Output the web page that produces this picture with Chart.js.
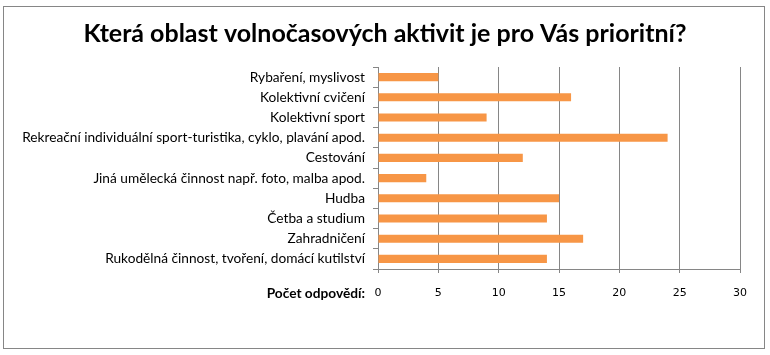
<!DOCTYPE html>
<html>
<head>
<meta charset="utf-8">
<script src="https://cdn.jsdelivr.net/npm/chart.js@4/dist/chart.umd.min.js"></script>
<style>
html,body{margin:0;padding:0;background:#fff;}
#wrap{width:770px;height:355px;position:relative;}
</style>
</head>
<body>
<div id="wrap"><canvas id="c" width="770" height="355"></canvas></div>
<script>
const titleText = "Která oblast volnočasových aktivit je pro Vás prioritní?";
const axisTitle = "Počet odpovědí:";
const categories = [
  "Rybaření, myslivost",
  "Kolektivní cvičení",
  "Kolektivní sport",
  "Rekreační individuální sport-turistika, cyklo, plavání apod.",
  "Cestování",
  "Jiná umělecká činnost např. foto, malba apod.",
  "Hudba",
  "Četba a studium",
  "Zahradničení",
  "Rukodělná činnost, tvoření, domácí kutilství"
];
const values = [5, 16, 9, 24, 12, 4, 15, 14, 17, 14];
const xTicks = [0, 5, 10, 15, 20, 25, 30];

const frame = {
  id: 'frame',
  beforeDraw(chart) {
    const ctx = chart.ctx;
    ctx.save();
    ctx.fillStyle = '#fff';
    ctx.fillRect(0, 0, chart.width, chart.height);
    ctx.strokeStyle = '#868686';
    ctx.lineWidth = 1;
    ctx.strokeRect(3.5, 6.5, 761, 342);
    ctx.restore();
  },
  afterDraw(chart) {
    const ctx = chart.ctx;
    ctx.save();
    ctx.fillStyle = '#000';
    ctx.textBaseline = 'middle';
    ctx.textAlign = 'center';
    ctx.font = 'bold 25px Lato';
    ctx.fillText(titleText, 385, 34);
    ctx.font = 'bold 13.7px Lato';
    ctx.textAlign = 'right';
    ctx.fillText(axisTitle, 365, 294);
    ctx.restore();
  }
};

new Chart(document.getElementById('c'), {
  type: 'bar',
  data: {
    labels: categories,
    datasets: [{
      data: values,
      backgroundColor: '#F79646',
      borderWidth: 0,
      barPercentage: 0.4,
      categoryPercentage: 1.0
    }]
  },
  options: {
    indexAxis: 'y',
    responsive: false,
    animation: false,
    events: [],
    layout: { padding: { left: 0, right: 30, top: 67, bottom: 0 } },
    plugins: {
      legend: { display: false },
      tooltip: { enabled: false },
      title: { display: false }
    },
    scales: {
      x: {
        min: 0, max: 30,
        afterBuildTicks(scale) { scale.ticks = xTicks.map(v => ({ value: v })); },
        afterFit(scale) { scale.height = 86; },
        grid: { color: '#868686', lineWidth: 1, tickLength: 4, drawTicks: true },
        border: { display: true, color: '#868686' },
        ticks: { color: '#000', font: { family: 'DejaVu Sans', size: 11 }, padding: 14, maxRotation: 0 }
      },
      y: {
        afterFit(scale) { scale.width = 378; },
        grid: { display: true, drawOnChartArea: false, drawTicks: true, tickLength: 5, color: '#868686', offset: true },
        border: { display: true, color: '#868686' },
        ticks: { color: '#000', font: { family: 'Lato', size: 13.7 }, padding: 8, autoSkip: false }
      }
    }
  },
  plugins: [frame]
});
</script>
</body>
</html>
